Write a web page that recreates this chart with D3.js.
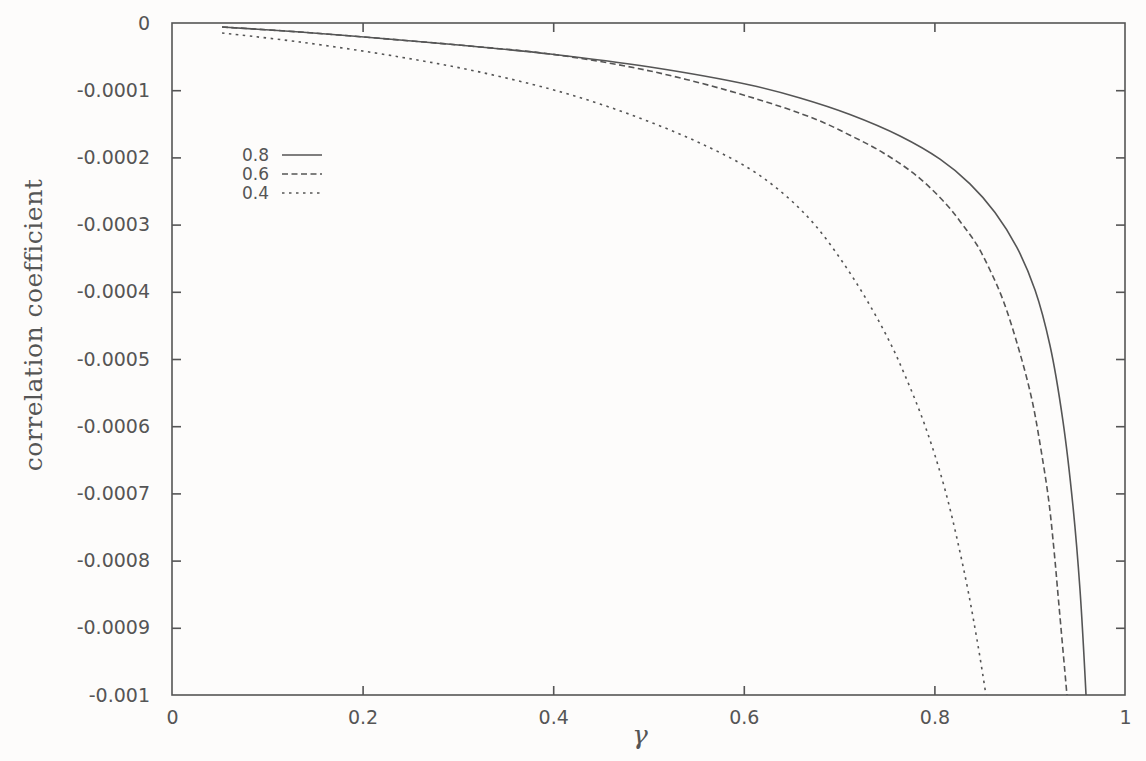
<!DOCTYPE html>
<html>
<head>
<meta charset="utf-8">
<script src="https://cdn.jsdelivr.net/npm/d3@7"></script>
<style>
  html, body { margin: 0; padding: 0; background: #fdfcfb; }
  svg { display: block; }
</style>
</head>
<body>
<svg id="chart" width="1146" height="761"></svg>
<script>
// ---- data ----
const seriesNames = ["0.8", "0.6", "0.4"];

const gamma08 = [0.0525, 0.1343, 0.2392, 0.3179, 0.3967, 0.5016, 0.6065, 0.6590, 0.7114, 0.7639, 0.8059, 0.8373, 0.8636, 0.8867, 0.9056, 0.9213, 0.9349, 0.9454, 0.9528, 0.9591];
const corr08  = [-0.0000060, -0.0000134, -0.0000253, -0.0000350, -0.0000461, -0.0000655, -0.0000923, -0.0001116, -0.0001362, -0.0001682, -0.0002027, -0.0002393, -0.0002820, -0.0003344, -0.0003973, -0.0004799, -0.0005923, -0.0007188, -0.0008438, -0.001];

const gamma06 = [0.0525, 0.1343, 0.2392, 0.3179, 0.3967, 0.5016, 0.6065, 0.6768, 0.7114, 0.7461, 0.7817, 0.8122, 0.8290, 0.8447, 0.8583, 0.8720, 0.8888, 0.9024, 0.9119, 0.9199, 0.9255, 0.9302, 0.9391];
const corr06  = [-0.0000060, -0.0000134, -0.0000253, -0.0000350, -0.0000461, -0.0000714, -0.000110, -0.000144, -0.000167, -0.000193, -0.0002277, -0.0002693, -0.0002991, -0.0003304, -0.0003676, -0.0004122, -0.0004866, -0.0005610, -0.0006354, -0.0007098, -0.0007842, -0.0008586, -0.001];

const gamma04 = [0.0525, 0.1343, 0.2392, 0.3179, 0.3967, 0.4491, 0.5016, 0.5540, 0.6065, 0.6432, 0.6747, 0.7062, 0.7324, 0.7534, 0.7692, 0.7901, 0.8111, 0.8321, 0.8458, 0.8541];
const corr04  = [-0.0000149, -0.0000283, -0.0000506, -0.0000714, -0.0000982, -0.0001205, -0.0001473, -0.0001786, -0.0002173, -0.0002560, -0.0003006, -0.0003609, -0.0004204, -0.0004754, -0.0005246, -0.0005990, -0.0006942, -0.0008222, -0.0009267, -0.001];

const xTicks = [0, 0.2, 0.4, 0.6, 0.8, 1];
const xTickLabels = ["0", "0.2", "0.4", "0.6", "0.8", "1"];
const yTicks = [0, -0.0001, -0.0002, -0.0003, -0.0004, -0.0005, -0.0006, -0.0007, -0.0008, -0.0009, -0.001];
const yTickLabels = ["0", "-0.0001", "-0.0002", "-0.0003", "-0.0004", "-0.0005", "-0.0006", "-0.0007", "-0.0008", "-0.0009", "-0.001"];

// ---- layout ----
const L = 172, R = 1125, T = 23, B = 695;
const ink = "#555";
const svg = d3.select("#chart");

const x = d3.scaleLinear().domain([0, 1]).range([L, R]);
const y = d3.scaleLinear().domain([0, -0.001]).range([T, B]);

const tickFont = "DejaVu Sans, sans-serif";

// frame
svg.append("rect").attr("x", L).attr("y", T).attr("width", R - L).attr("height", B - T)
  .attr("fill", "none").attr("stroke", ink).attr("stroke-width", 1.6);

// axes via d3 axes (inward ticks)
const xAxisB = d3.axisBottom(x).tickValues(xTicks).tickSize(-9).tickPadding(16)
  .tickFormat((d, i) => xTickLabels[i]);
const gxb = svg.append("g").attr("transform", `translate(0,${B})`).call(xAxisB);
const xAxisT = d3.axisTop(x).tickValues(xTicks.slice(1, -1)).tickSize(-9).tickFormat("");
const gxt = svg.append("g").attr("transform", `translate(0,${T})`).call(xAxisT);

const yAxisL = d3.axisLeft(y).tickValues(yTicks).tickSize(-9).tickPadding(22)
  .tickFormat((d, i) => yTickLabels[i]);
const gyl = svg.append("g").attr("transform", `translate(${L},0)`).call(yAxisL);
const yAxisR = d3.axisRight(y).tickValues(yTicks.slice(1, -1)).tickSize(-9).tickFormat("");
const gyr = svg.append("g").attr("transform", `translate(${R},0)`).call(yAxisR);

[gxb, gxt, gyl, gyr].forEach(g => {
  g.select(".domain").remove();
  g.selectAll(".tick line").attr("stroke", ink).attr("stroke-width", 1.6);
  g.selectAll(".tick text").attr("fill", ink).attr("font-family", tickFont).attr("font-size", 19);
});
gxb.selectAll(".tick line").filter((d) => d === 0 || d === 1).remove();
gyl.selectAll(".tick line").filter((d) => d === 0 || d === -0.001).remove();

// axis titles
svg.append("text")
  .attr("x", 640).attr("y", 744)
  .attr("text-anchor", "middle")
  .attr("font-family", "DejaVu Serif, serif")
  .attr("font-style", "italic")
  .attr("font-size", 26)
  .attr("fill", ink)
  .text("γ");

svg.append("text")
  .attr("transform", "translate(42,325) rotate(-90)")
  .attr("text-anchor", "middle")
  .attr("font-family", "DejaVu Serif, serif")
  .attr("font-size", 25)
  .attr("letter-spacing", 0.5)
  .attr("fill", ink)
  .text("correlation coefficient");

// curves
const series = [
  { name: seriesNames[0], g: gamma08, c: corr08, dash: null },
  { name: seriesNames[1], g: gamma06, c: corr06, dash: "6,3.5" },
  { name: seriesNames[2], g: gamma04, c: corr04, dash: "2.5,4.5" }
];

const line = d3.line().x(d => x(d[0])).y(d => y(d[1])).curve(d3.curveCatmullRom.alpha(0.5));

const clipId = "plotclip";
svg.append("clipPath").attr("id", clipId).append("rect")
  .attr("x", L).attr("y", T).attr("width", R - L).attr("height", B - T);

series.forEach(s => {
  const pts = s.g.map((g, i) => [g, s.c[i]]);
  svg.append("path")
    .attr("d", line(pts))
    .attr("fill", "none")
    .attr("stroke", ink)
    .attr("stroke-width", 1.6)
    .attr("stroke-dasharray", s.dash)
    .attr("clip-path", `url(#${clipId})`);
});

// legend
const legY = [155, 174, 193];
series.forEach((s, i) => {
  svg.append("text")
    .attr("x", 269).attr("y", legY[i]).attr("dy", "0.35em")
    .attr("text-anchor", "end")
    .attr("font-family", tickFont).attr("font-size", 17)
    .attr("fill", ink).text(s.name);
  svg.append("line")
    .attr("x1", 282).attr("x2", 322).attr("y1", legY[i]).attr("y2", legY[i])
    .attr("stroke", ink).attr("stroke-width", 1.6)
    .attr("stroke-dasharray", s.dash);
});
</script>
</body>
</html>
